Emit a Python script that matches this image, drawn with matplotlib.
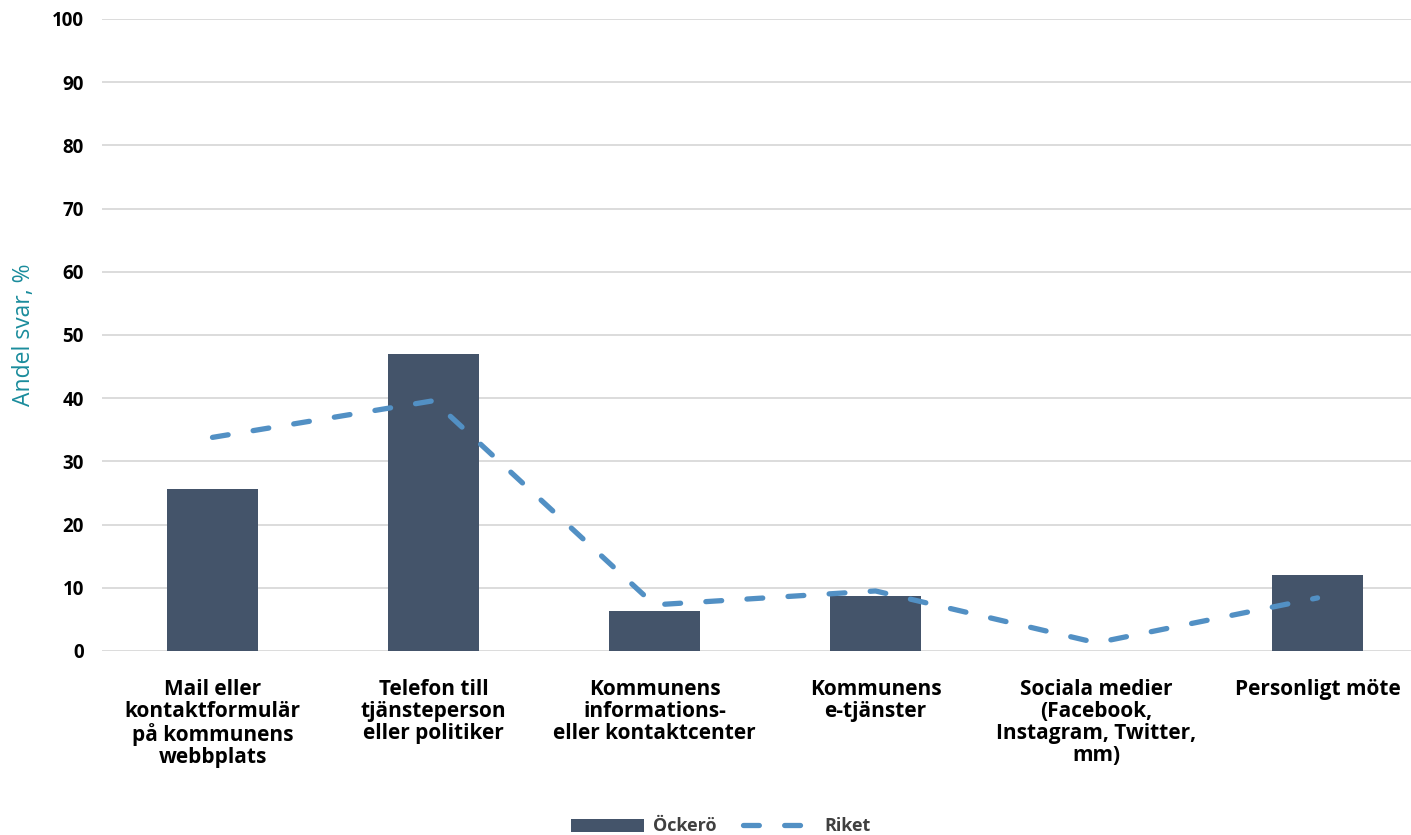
import numpy as np
import matplotlib.pyplot as plt

categories = ["Mail eller\nkontaktformulär\npå kommunens\nwebbplats",
              "Telefon till\ntjänsteperson\neller politiker",
              "Kommunens\ninformations-\neller kontaktcenter",
              "Kommunens\ne-tjänster",
              "Sociala medier\n(Facebook,\nInstagram, Twitter,\nmm)",
              "Personligt möte"]
ockero = [25.6, 47.0, 6.4, 8.7, 0.0, 12.0]
riket = [33.8, 39.6, 7.3, 9.5, 1.3, 8.4]
yticks = [0, 10, 20, 30, 40, 50, 60, 70, 80, 90, 100]

plt.rcParams['font.family'] = ['Open Sans', 'DejaVu Sans']

fig = plt.figure(figsize=(14.11, 8.35), dpi=100)
ax = fig.add_axes([102 / 1411, 1 - 651 / 835, 1326 / 1411, 632 / 835])

x = np.arange(len(categories))
ax.bar(x, ockero, width=0.41, color="#44546A", label="Öckerö", zorder=2)
line, = ax.plot(x, riket, color="#5290C4", lw=3.8, label="Riket", zorder=3,
                dash_capstyle="round", solid_joinstyle="round")
line.set_dashes((3.0, 4.8))

ax.set_xlim(-0.5, 5.5)
ax.set_ylim(0, 100)
ax.set_yticks(yticks)
ax.set_xticks(x)
ax.set_xticklabels(categories, fontsize=15, fontweight="bold", linespacing=1.07)
ax.tick_params(axis="y", length=0, labelsize=13.5, pad=13)
ax.tick_params(axis="x", length=0, pad=20)
for t in ax.get_yticklabels():
    t.set_fontweight("bold")
ax.grid(axis="y", color="#D9D9D9", lw=1.3, zorder=0)
for s in ax.spines.values():
    s.set_visible(False)

ax.set_ylabel("Andel svar, %", color="#1A8C9C", fontsize=16.5)
ax.yaxis.set_label_coords(-0.05, 0.5)

handles, labels = ax.get_legend_handles_labels()
order = [labels.index("Öckerö"), labels.index("Riket")]
leg = fig.legend([handles[i] for i in order], [labels[i] for i in order],
                 loc="lower center", bbox_to_anchor=(0.511, -0.02), ncol=2, frameon=False,
                 fontsize=13, handlelength=4.0, handleheight=0.75, columnspacing=1.5,
                 handletextpad=0.5)
for t in leg.get_texts():
    t.set_color("#404040")
    t.set_fontweight("bold")

fig.savefig("out.png", dpi=100)
